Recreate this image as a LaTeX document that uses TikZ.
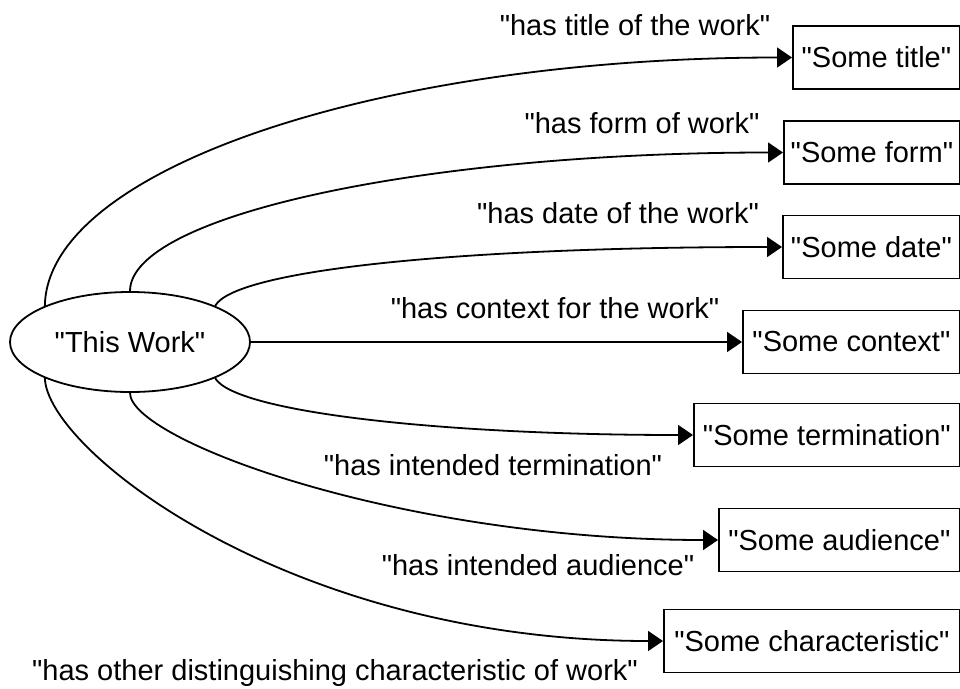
\documentclass[tikz,border=0pt]{standalone}
\usepackage{fontspec}
\setmainfont{Liberation Sans}[Ligatures=TeXOff]
\usetikzlibrary{arrows.meta,shapes.geometric}

\begin{document}
\begin{tikzpicture}[x=1pt,y=-1pt,
  every node/.style={font=\fontsize{29}{34}\selectfont, text=black},
  work/.style={draw, ellipse, line width=1.8pt, fill=white,
               minimum width=240pt, minimum height=100pt, inner sep=0pt},
  valbox/.style={draw, rectangle, line width=1.8pt, anchor=west,
                 minimum height=63pt, inner sep=0pt},
  rel/.style={line width=1.8pt, -{Triangle[length=15pt,width=20pt]}},
  lbl/.style={anchor=base, inner sep=0pt}
]
\useasboundingbox (0,0) rectangle (960,688);

% subject
\node[work] (w) at (130,342) {"This Work"};

% values (right side runs to the edge at x = 959)
\node[valbox, minimum width=167pt] (t1) at (792,57.5) {"Some title"};
\node[valbox, minimum width=176pt] (t2) at (783,152.5) {"Some form"};
\node[valbox, minimum width=177pt] (t3) at (782,247) {"Some date"};
\node[valbox, minimum width=217pt] (t4) at (742,342) {"Some context"};
\node[valbox, minimum width=266pt] (t5) at (693,435) {"Some termination"};
\node[valbox, minimum width=241pt] (t6) at (718,540) {"Some audience"};
\node[valbox, minimum width=296pt] (t7) at (663,641) {"Some characteristic"};

% relations
\draw[rel] (w.157) .. controls (47,169) and (380,57.5) .. (t1.west);
\draw[rel] (w.90) .. controls (130,216) and (421,152.5) .. (t2.west);
\draw[rel] (w.23) .. controls (235,270) and (460,247) .. (t3.west);
\draw[rel] (w.east) -- (t4.west);
\draw[rel] (w.-23) .. controls (235,412) and (440,435) .. (t5.west);
\draw[rel] (w.270) .. controls (130,440) and (400,540) .. (t6.west);
\draw[rel] (w.203) .. controls (47,450) and (290,641) .. (t7.west);

% relation labels
\node[lbl] (l1) at (635,35) {"has title of the work"};
\node[lbl] (l2) at (642,133) {"has form of work"};
\node[lbl] (l3) at (618,223) {"has date of the work"};
\node[lbl] (l4) at (555,318) {"has context for the work"};
\node[lbl] (l5) at (493,475) {"has intended termination"};
\node[lbl] (l6) at (538,575) {"has intended audience"};
\node[lbl] (l7) at (335,680) {"has other distinguishing characteristic of work"};
\end{tikzpicture}
\end{document}
